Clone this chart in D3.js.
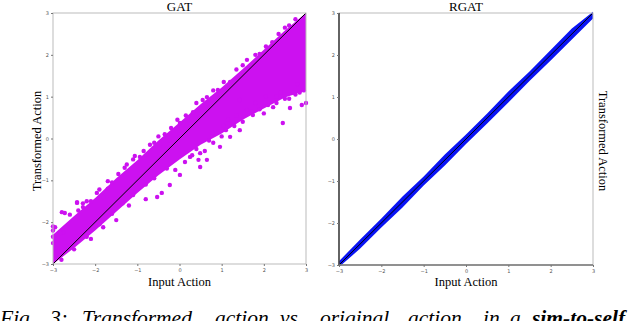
<!DOCTYPE html>
<html>
<head>
<meta charset="utf-8">
<script src="https://cdn.jsdelivr.net/npm/d3@7"></script>
<style>
  body { margin: 0; background: #fff; }
  svg { display: block; }
  .tick text { font-family: "DejaVu Sans", sans-serif; font-size: 5px; fill: #555; }
  .tick line { stroke: #777; }
</style>
</head>
<body>
<div id="chart"></div>
<script>
var svgWidth = 640;
var svgHeight = 321;

// tick values shared by both panels
var tickValues = [-3, -2, -1, 0, 1, 2, 3];

// GAT: dense band (lower / upper edge)
var gatBandX = [-3, -2.5, -2, -1.5, -1, -0.5, 0, 0.5, 1, 1.5, 2, 2.5, 3];
var gatBandLow = [-3.0, -2.62, -2.2, -1.75, -1.3, -0.88, -0.5, -0.15, 0.12, 0.45, 0.72, 0.98, 1.15];
var gatBandHigh = [-2.3, -1.85, -1.42, -0.95, -0.52, -0.05, 0.38, 0.82, 1.22, 1.66, 2.12, 2.58, 3.0];

// GAT: scattered points around the dense band [input, transformed]
var gatPoints = [
  // far below the diagonal
  [2.45, 0.37], [3.0, 0.85], [2.22, 0.75], [2.62, 0.73], [1.74, 0.56], [1.6, 0.68],
  [1.43, 0.92], [1.27, 0.39], [2.9, 0.8], [2.0, 0.6], [2.3, 1.0], [2.75, 1.05],
  [0.49, -0.68], [0.65, -0.51], [0.45, -0.51], [0.01, -0.87], [-0.23, -1.11],
  [-0.42, -1.3], [-0.53, -1.4], [-1.81, -2.12], [0.13, -0.56], [0.79, 0.13],
  [1.2, 0.04], [0.96, -0.2], [0.49, -0.35], [0.25, -0.44], [1.43, 0.2],
  [1.05, 0.3], [0.7, -0.05], [-0.1, -0.75], [-0.8, -1.45], [-1.2, -1.6],
  [-1.5, -1.95], [-2.1, -2.4], [2.6, 0.95], [2.85, 1.1],
  // ragged lower edge, upper right
  [1.0, 0.05], [1.1, 0.2], [1.3, 0.3], [1.5, 0.4], [1.7, 0.65], [1.9, 0.7],
  [2.1, 0.8], [2.3, 0.85], [2.5, 0.95], [2.7, 1.1], [2.95, 1.15], [0.6, -0.3],
  [0.8, -0.1], [0.3, -0.4], [0.4, -0.25], [2.05, 1.0], [2.4, 1.1], [2.8, 1.3],
  [1.8, 0.85], [1.35, 0.55], [1.15, 0.45],
  // above the band
  [-2.79, -1.76], [-2.72, -1.78], [-2.43, -1.54], [-1.96, -1.3], [-2.29, -1.64],
  [-1.06, -0.42], [-0.78, -0.39], [-0.94, -0.44], [-0.39, -0.2], [-0.23, -0.04],
  [0.01, 0.37], [0.32, 0.63], [0.65, 0.99], [1.6, 1.88], [1.2, 1.35], [0.91, 1.16],
  [-2.43, -1.52], [-2.29, -1.55], [-1.81, -1.4], [-2.76, -2.24], [-2.83, -2.26],
  [-2.95, -2.12], [-3.0, -2.1], [-3.0, -2.2], [-3.0, -2.35], [-3.0, -2.5],
  [-1.6, -1.05], [-1.3, -0.7], [-0.6, -0.1], [0.2, 0.5], [2.2, 2.3],
  [2.6, 2.7], [1.9, 2.02], [-2.1, -1.5], [-1.7, -1.2], [-0.2, 0.25],
  // ragged upper edge
  [-2.6, -1.82], [-2.4, -1.72], [-2.2, -1.5], [-1.9, -1.22], [-1.7, -1.02],
  [-1.45, -0.85], [-1.25, -0.62], [-1.1, -0.5], [-0.85, -0.3], [-0.7, -0.15],
  [-0.5, 0.05], [-0.35, 0.1], [-0.05, 0.45], [0.15, 0.55], [0.4, 0.85],
  [0.55, 0.92], [0.8, 1.15], [1.05, 1.35], [1.35, 1.65], [1.5, 1.75],
  [1.8, 2.0], [2.05, 2.2], [2.35, 2.5], [2.5, 2.65], [2.75, 2.85],
  // lower edge near the diagonal, lower left
  [-2.8, -2.9], [-2.5, -2.65], [-2.2, -2.35], [-1.9, -2.05], [-1.6, -1.8],
  [-1.35, -1.55], [-1.1, -1.35], [-0.8, -1.1], [-0.6, -0.95], [-0.3, -0.72]
];

// RGAT: thin band around the diagonal
var rgatBandX = [-3, -2.5, -2, -1.5, -1, -0.5, 0, 0.5, 1, 1.5, 2, 2.5, 3];
var rgatBandLow = [-3.05, -2.61, -2.11, -1.63, -1.11, -0.63, -0.12, 0.37, 0.87, 1.38, 1.87, 2.37, 2.87];
var rgatBandHigh = [-2.91, -2.39, -1.89, -1.37, -0.89, -0.37, 0.11, 0.61, 1.13, 1.61, 2.12, 2.63, 3.03];

var svg = d3.select("#chart")
  .append("svg")
  .attr("width", svgWidth)
  .attr("height", svgHeight);

function drawPanel(opts) {
  var x = d3.scaleLinear().domain([-3, 3]).range([opts.left, opts.right]);
  var y = d3.scaleLinear().domain([-3, 3]).range([opts.bottom, opts.top]);
  var g = svg.append("g");

  // band
  var area = d3.area()
    .x(function(d, i) { return x(opts.bandX[i]); })
    .y0(function(d, i) { return y(opts.bandLow[i]); })
    .y1(function(d, i) { return y(opts.bandHigh[i]); });
  g.append("path")
    .datum(opts.bandX)
    .attr("d", area)
    .attr("fill", opts.color);

  // points
  if (opts.points) {
    g.selectAll("circle")
      .data(opts.points)
      .enter()
      .append("circle")
      .attr("cx", function(d) { return x(d[0]); })
      .attr("cy", function(d) { return y(d[1]); })
      .attr("r", 2.2)
      .attr("fill", opts.color);
  }

  // identity line
  g.append("line")
    .attr("x1", x(-3)).attr("y1", y(-3))
    .attr("x2", x(3)).attr("y2", y(3))
    .attr("stroke", "#000")
    .attr("stroke-width", 1);

  // frame
  g.append("rect")
    .attr("x", opts.left).attr("y", opts.top)
    .attr("width", opts.right - opts.left)
    .attr("height", opts.bottom - opts.top)
    .attr("fill", "none")
    .attr("stroke", "#bbb")
    .attr("stroke-width", 1);
  if (opts.darkLeft) {
    g.append("line")
      .attr("x1", opts.left).attr("x2", opts.left)
      .attr("y1", opts.top).attr("y2", opts.bottom)
      .attr("stroke", "#222").attr("stroke-width", 1.3);
    g.append("line")
      .attr("x1", opts.left).attr("x2", opts.right)
      .attr("y1", opts.bottom).attr("y2", opts.bottom)
      .attr("stroke", "#777").attr("stroke-width", 1.3);
  }

  // axes
  var xAxis = d3.axisBottom(x).tickValues(tickValues).tickFormat(d3.format("d")).tickSize(2).tickPadding(2);
  var yAxis = d3.axisLeft(y).tickValues(tickValues).tickFormat(d3.format("d")).tickSize(2).tickPadding(2);
  g.append("g")
    .attr("transform", "translate(0," + opts.bottom + ")")
    .call(xAxis)
    .call(function(a) { a.select(".domain").remove(); });
  g.append("g")
    .attr("transform", "translate(" + opts.left + ",0)")
    .call(yAxis)
    .call(function(a) { a.select(".domain").remove(); });

  // title and x label
  var cx = (opts.left + opts.right) / 2;
  g.append("text")
    .attr("x", cx).attr("y", 10.5)
    .attr("text-anchor", "middle")
    .attr("font-family", "Liberation Serif, serif")
    .attr("font-size", 13)
    .text(opts.title);
  g.append("text")
    .attr("x", cx).attr("y", 286)
    .attr("text-anchor", "middle")
    .attr("font-family", "Liberation Serif, serif")
    .attr("font-size", 12.5)
    .text("Input Action");
}

drawPanel({
  left: 53, right: 306, top: 13, bottom: 264,
  title: "GAT", color: "#cc11f0",
  bandX: gatBandX, bandLow: gatBandLow, bandHigh: gatBandHigh,
  points: gatPoints, darkLeft: false
});

drawPanel({
  left: 339, right: 593, top: 13, bottom: 265,
  title: "RGAT", color: "#0a14f5",
  bandX: rgatBandX, bandLow: rgatBandLow, bandHigh: rgatBandHigh,
  points: null, darkLeft: true
});

// y labels
svg.append("text")
  .attr("transform", "translate(41,141) rotate(-90)")
  .attr("text-anchor", "middle")
  .attr("font-family", "Liberation Serif, serif")
  .attr("font-size", 12.5)
  .text("Transformed Action");

svg.append("text")
  .attr("transform", "translate(599,141) rotate(90)")
  .attr("text-anchor", "middle")
  .attr("font-family", "Liberation Serif, serif")
  .attr("font-size", 12.5)
  .text("Transformed Action");

// caption (cut off by the bottom edge, as in the figure)
var captionWords = ["Fig.", "3:", "Transformed", "action", "vs", "original", "action", "in", "a", "sim-to-self"];
var captionX = [0, 50, 82, 215, 280, 320, 408, 483, 510, 532];
svg.append("g").selectAll("text")
  .data(captionWords)
  .enter()
  .append("text")
  .attr("x", function(d, i) { return captionX[i]; })
  .attr("y", 325)
  .attr("font-family", "Liberation Serif, serif")
  .attr("font-style", "italic")
  .attr("font-weight", function(d, i) { return i === captionWords.length - 1 ? "bold" : "normal"; })
  .attr("font-size", 21.5)
  .text(function(d) { return d; });
</script>
</body>
</html>
